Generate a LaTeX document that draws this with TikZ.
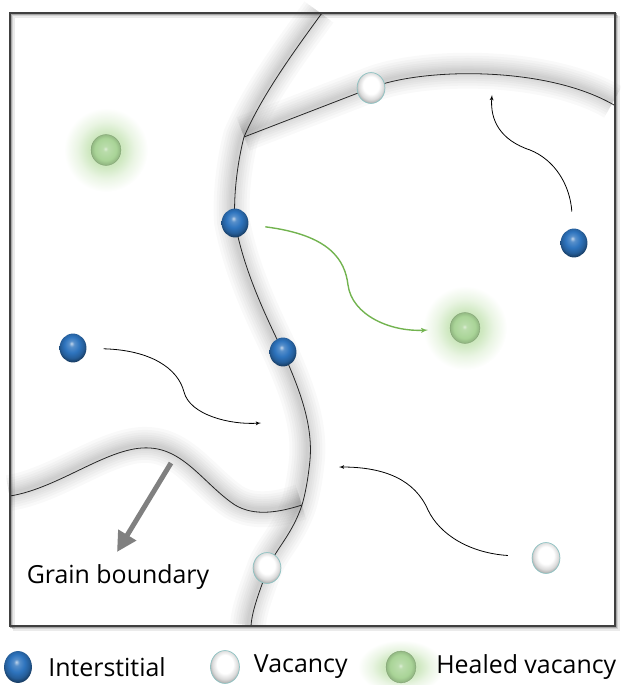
\documentclass[tikz,border=0pt]{standalone}
\usepackage{fontspec}
\setmainfont{Open Sans}
\usetikzlibrary{arrows,arrows.meta,shapes.geometric,positioning}

\definecolor{intblue}{HTML}{2E74BE}
\definecolor{healgreen}{HTML}{A9D497}
\definecolor{glowgreen}{HTML}{C2E2B0}
\definecolor{arrowgreen}{HTML}{72B34F}
\definecolor{vacedge}{HTML}{8CC2C2}

% shadings: the path edge sits at 25bp
\pgfdeclareradialshading{blueball}{\pgfpoint{-3bp}{8bp}}{color(0bp)=(intblue!30!white); color(5bp)=(intblue!80!white); color(14bp)=(intblue); color(22bp)=(intblue!80!black); color(28bp)=(intblue!50!black); color(50bp)=(intblue!50!black)}
\pgfdeclareradialshading{vacball}{\pgfpoint{0bp}{6bp}}{color(0bp)=(white); color(14bp)=(white); color(22bp)=(black!14); color(28bp)=(black!35); color(50bp)=(black!35)}
\pgfdeclareradialshading{healball}{\pgfpoint{-1bp}{2bp}}{color(0bp)=(healgreen!40!white); color(4bp)=(healgreen!80!white); color(18bp)=(healgreen); color(25bp)=(healgreen!85!black); color(50bp)=(healgreen!85!black)}
\pgfdeclareradialshading{glow}{\pgfpoint{0bp}{0bp}}{color(0bp)=(glowgreen); color(10bp)=(glowgreen!80!white); color(17bp)=(glowgreen!35!white); color(25bp)=(white); color(50bp)=(white)}

% grain boundaries, in pixel units
\newcommand\gbMain{(322,13) .. controls (295,50) and (262,95) .. (244,137)
  .. controls (238,160) and (233,195) .. (235,223)
  .. controls (245,275) and (268,320) .. (283,352)
  .. controls (300,390) and (313,425) .. (310,460)
  .. controls (308,480) and (305,495) .. (302,505)
  .. controls (292,535) and (275,550) .. (268,568)
  .. controls (260,590) and (252,610) .. (251,626)}
\newcommand\gbBranch{(244,137) -- (371,88) .. controls (420,68) and (545,65) .. (614,105)}
\newcommand\gbLow{(10,496) .. controls (60,488) and (110,445) .. (150,448)
  .. controls (185,450) and (205,485) .. (235,505)
  .. controls (255,517) and (280,512) .. (302,505)}

\tikzset{
  gbshade/.style={line width=#1, black, opacity=0.022},
  gbline/.style={line width=0.8, black!85},
  interstitial/.style={ellipse, minimum width=27, minimum height=29, inner sep=0, shading=blueball},
  vacancy/.style={ellipse, minimum width=28, minimum height=31, inner sep=0, shading=vacball, draw=vacedge, line width=0.7},
  healed/.style={ellipse, minimum width=30, minimum height=31, inner sep=0, shading=healball, draw=healgreen!75!black, line width=0.3},
  hop/.style={->, line width=0.8, black, shorten <=17},
  healhop/.style={->, line width=1.4, arrowgreen, shorten <=17},
  legendtext/.style={inner sep=0, font=\fontsize{25}{29}\selectfont},
}

\begin{document}
\begin{tikzpicture}[x=1bp,y=-1bp,>=latex']
  \useasboundingbox (0,0) rectangle (621,685);

  % soft shadow of the boundaries
  \foreach \w in {36,30,25,20,16,12,9,6,3} {
    \draw[gbshade=\w, shift={(-3,-1)}] \gbMain;
    \draw[gbshade=\w, shift={(-1,-3)}] \gbBranch;
    \draw[gbshade=\w, shift={(-1,-3)}] \gbLow;
  }

  % glow round the healed sites
  \coordinate (h1) at (106,150);
  \coordinate (h2) at (465,328);
  \shade[shading=glow] (h1) circle (42);
  \shade[shading=glow] (h2) circle (42);

  \draw[gbline] \gbMain;
  \draw[gbline] \gbBranch;
  \draw[gbline] \gbLow;

  % point defects
  \node[interstitial] (I1) at (235,223) {};
  \node[interstitial] (I2) at (283,352) {};
  \node[interstitial] (I3) at (73,348) {};
  \node[interstitial] (I4) at (574,243) {};
  \node[vacancy] (V1) at (371,88) {};
  \node[vacancy] (V2) at (267,568) {};
  \node[vacancy] (V3) at (546,558) {};
  \node[healed] (H1) at (h1) {};
  \node[healed] (H2) at (h2) {};

  % migration paths
  \coordinate (e1) at (428,330);
  \coordinate (e3) at (261,423);
  \coordinate (e4) at (492,95);
  \coordinate (e5) at (339,467);
  \draw[healhop] (I1) .. controls (330,235) and (345,260) .. (348,285)
    .. controls (352,315) and (390,332) .. (e1);
  \draw[hop] (I3) .. controls (150,350) and (178,368) .. (184,392)
    .. controls (190,415) and (230,425) .. (e3);
  \draw[hop] (I4) .. controls (570,185) and (555,160) .. (530,150)
    .. controls (500,140) and (490,120) .. (e4);
  \draw[hop,shorten <=24] (V3) .. controls (470,553) and (440,535) .. (428,510)
    .. controls (415,480) and (385,467) .. (e5);

  % label of the boundary
  \coordinate (gbtail) at (171,463);
  \coordinate (gbtip) at (117,552);
  \draw[line width=5, black!50, -{Triangle[length=20,width=20]}] (gbtail) -- (gbtip);
  \node[legendtext] (GB) at (118,577) {Grain boundary};

  % frame with its shadow
  \foreach \d/\o in {4/0.08,2.5/0.18,1.2/0.35}
    \draw[line width=1.5, black, opacity=\o, shift={(\d,\d)}] (10,13) rectangle (615,626);
  \draw[line width=1.2, black!75] (10,13) rectangle (615,626);

  % legend
  \node[interstitial, minimum width=28, minimum height=32] (LI) at (18,667) {};
  \node[legendtext, right=16 of LI] (LIt) {Interstitial};
  \node[vacancy, minimum width=29, minimum height=33] (LV) at (225,667) {};
  \node[legendtext, right=14 of LV] (LVt) {Vacancy};
  \shade[shading=glow] (358,640) rectangle (444,694);
  \node[healed, minimum width=30, minimum height=32] (LH) at (401,667) {};
  \node[legendtext, right=20 of LH] (LHt) {Healed vacancy};
\end{tikzpicture}
\end{document}
